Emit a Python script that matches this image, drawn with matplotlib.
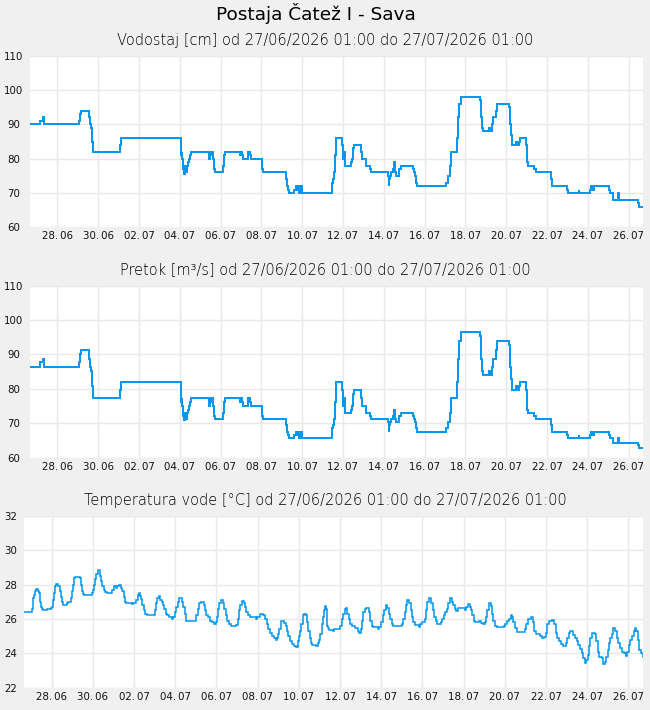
import numpy as np
import pandas as pd
import matplotlib
matplotlib.use("Agg")
import matplotlib.pyplot as plt

# ---------------- data ----------------
start = pd.Timestamp("2026-06-26 15:50")
end = pd.Timestamp("2026-07-26 17:00")

# water level [cm]: (day offset from start, value) step series
level_t = [0.00, 0.49, 0.64, 0.67, 2.42, 2.47, 2.52, 2.91, 2.96, 3.01, 3.06, 3.10, 4.43, 4.48,
           7.42, 7.45, 7.47, 7.52, 7.57, 7.60, 7.65, 7.70, 7.75, 7.80, 7.85, 7.90, 8.79, 8.84,
           8.89, 8.99, 9.04, 9.09, 9.48, 9.53, 9.58, 10.31, 10.36, 10.41, 10.46, 10.71, 10.76,
           10.81, 11.39, 11.44, 12.57, 12.62, 12.67, 12.72, 12.96, 13.06, 13.11, 13.16, 13.21,
           13.26, 13.33, 14.80, 14.85, 14.89, 14.94, 14.99, 15.29, 15.34, 15.36, 15.40, 15.45,
           15.72, 15.77, 15.83, 15.88, 16.22, 16.27, 16.46, 16.66, 16.71, 17.54, 17.59, 17.62,
           17.67, 17.72, 17.77, 17.85, 17.90, 17.95, 18.08, 18.18, 18.77, 18.82, 18.87, 18.92,
           18.96, 20.40, 20.50, 20.60, 20.65, 20.94, 20.99, 21.04, 21.12, 22.08, 22.13, 22.18,
           22.23, 22.51, 22.56, 22.67, 22.72, 22.82, 22.87, 23.46, 23.51, 23.56, 23.61, 23.65,
           23.80, 23.85, 23.95, 24.00, 24.29, 24.34, 24.39, 24.73, 24.78, 25.54, 25.59, 26.30,
           26.35, 26.89, 26.92, 27.43, 27.48, 27.58, 27.63, 28.36, 28.41, 28.56, 28.82, 28.85,
           29.79, 29.84, 30.06]
level_v = [90, 91, 92, 90, 91, 93, 94, 92, 90, 89, 85, 82, 84, 86,
           81, 82, 80, 77, 75.5, 78, 76, 78, 79, 80, 81, 82, 80, 81,
           82, 80, 77, 76, 78, 81, 82, 81, 82, 81, 80, 82, 81,
           80, 77, 76, 74, 72, 71, 70, 71, 72, 71, 72, 70,
           72, 70, 73, 74, 76, 81, 86, 84, 81, 80, 82, 78,
           79, 80, 83, 84, 82, 80, 78, 77, 76, 75, 72, 74,
           75, 76, 77, 79, 76, 75, 77, 78, 77, 76, 75, 73,
           72, 73, 75, 78, 82, 86, 92, 96, 98, 97, 92, 89,
           88, 89, 88, 90, 92, 94, 96, 95, 90, 87, 86, 84,
           85, 84, 85, 86, 84, 79, 78, 77, 76, 74, 72, 71,
           70, 71, 70, 71, 72, 71, 72, 71, 70, 68, 70, 68,
           67, 66, 66]

# discharge [m3/s], same time stamps as level
flow_v = [86.4, 87.7, 88.8, 86.4, 87.7, 90.1, 91.4, 88.8, 86.4, 85.2, 80.8, 77.4, 79.7, 81.9,
          76.3, 77.4, 75.1, 72.2, 71.0, 73.0, 71.3, 73.0, 74.0, 75.1, 76.3, 77.4, 75.1, 76.3,
          77.4, 75.1, 72.2, 71.3, 73.0, 76.3, 77.4, 76.3, 77.4, 76.3, 75.1, 77.4, 76.3,
          75.1, 72.2, 71.3, 69.4, 67.5, 66.7, 65.8, 66.7, 67.5, 66.7, 67.5, 65.8,
          67.5, 65.8, 68.5, 69.4, 71.3, 76.3, 81.9, 79.7, 76.3, 75.1, 77.4, 73.0,
          74.0, 75.1, 78.5, 79.7, 77.4, 75.1, 73.0, 72.2, 71.3, 70.5, 67.5, 69.4,
          70.5, 71.3, 72.2, 74.0, 71.3, 70.5, 72.2, 73.0, 72.2, 71.3, 70.5, 68.5,
          67.5, 68.5, 70.5, 73.0, 77.4, 81.9, 88.8, 94.0, 96.6, 95.3, 88.8, 85.2,
          84.0, 85.2, 84.0, 86.4, 88.8, 91.4, 94.0, 92.7, 86.4, 82.9, 81.9, 79.7,
          80.8, 79.7, 80.8, 81.9, 79.7, 74.0, 73.0, 72.2, 71.3, 69.4, 67.5, 66.7,
          65.8, 66.7, 65.8, 66.7, 67.5, 66.7, 67.5, 66.7, 65.8, 64.3, 65.8, 64.3,
          63.6, 62.9, 62.9]

# water temperature [deg C]
temp_t = [0.00, 0.37, 0.42, 0.47, 0.52, 0.57, 0.66, 0.71, 0.76, 0.81, 0.87, 0.94, 1.11, 1.29,
          1.34, 1.39, 1.44, 1.50, 1.55, 1.66, 1.73, 1.78, 1.83, 1.89, 2.07, 2.16, 2.26, 2.33,
          2.37, 2.44, 2.49, 2.71, 2.76, 2.81, 2.86, 2.91, 3.28, 3.33, 3.39, 3.44, 3.50, 3.57,
          3.70, 3.75, 3.80, 3.86, 3.94, 4.01, 4.28, 4.35, 4.46, 4.52, 4.59, 4.73, 4.78, 4.85,
          4.89, 4.96, 5.22, 5.28, 5.46, 5.51, 5.56, 5.62, 5.69, 5.75, 5.82, 5.88, 5.95, 6.37,
          6.41, 6.46, 6.53, 6.61, 6.69, 6.75, 6.82, 6.90, 6.96, 7.03, 7.17, 7.25, 7.33, 7.40,
          7.46, 7.53, 7.67, 7.74, 7.82, 7.88, 8.37, 8.43, 8.50, 8.58, 8.74, 8.79, 8.85, 8.95,
          9.05, 9.14, 9.24, 9.32, 9.37, 9.42, 9.48, 9.56, 9.66, 9.73, 9.79, 9.85, 9.95, 10.06,
          10.31, 10.37, 10.44, 10.50, 10.57, 10.66, 10.73, 10.79, 10.87, 10.95, 11.26, 11.31,
          11.47, 11.62, 11.71, 11.78, 11.86, 11.94, 12.02, 12.12, 12.21, 12.26, 12.33, 12.39,
          12.46, 12.50, 12.62, 12.70, 12.76, 12.83, 12.89, 13.02, 13.12, 13.21, 13.28, 13.34,
          13.41, 13.47, 13.54, 13.59, 13.67, 13.73, 13.80, 13.86, 13.93, 13.99, 14.18, 14.27,
          14.33, 14.39, 14.46, 14.51, 14.56, 14.60, 14.65, 14.70, 14.75, 14.83, 14.99, 15.07,
          15.36, 15.43, 15.49, 15.56, 15.61, 15.69, 15.78, 15.83, 15.90, 16.09, 16.19, 16.25,
          16.35, 16.41, 16.48, 16.54, 16.61, 16.74, 16.80, 16.87, 16.93, 17.19, 17.25, 17.35,
          17.42, 17.48, 17.56, 17.64, 17.71, 17.77, 17.84, 17.90, 18.34, 18.41, 18.48, 18.55,
          18.59, 18.71, 18.77, 18.84, 18.90, 18.97, 19.16, 19.24, 19.34, 19.45, 19.52, 19.58,
          19.65, 19.77, 19.84, 19.90, 19.98, 20.06, 20.23, 20.31, 20.37, 20.44, 20.52, 20.60,
          20.66, 20.76, 20.82, 20.90, 20.98, 21.06, 21.42, 21.47, 21.53, 21.63, 21.69, 21.76,
          21.84, 21.90, 22.11, 22.19, 22.26, 22.37, 22.44, 22.50, 22.57, 22.65, 22.71, 22.78,
          22.86, 22.94, 23.28, 23.36, 23.44, 23.54, 23.62, 23.69, 23.75, 23.83, 23.91, 24.31,
          24.37, 24.46, 24.52, 24.59, 24.69, 24.77, 24.85, 25.04, 25.14, 25.25, 25.33, 25.41,
          25.49, 25.65, 25.73, 25.81, 25.89, 25.97, 26.07, 26.17, 26.30, 26.38, 26.46, 26.52,
          26.65, 26.75, 26.83, 26.91, 26.99, 27.07, 27.16, 27.22, 27.28, 27.36, 27.43, 27.49,
          27.56, 27.72, 27.79, 27.85, 27.91, 28.04, 28.12, 28.20, 28.27, 28.33, 28.40, 28.46,
          28.53, 28.61, 28.69, 28.77, 28.85, 28.93, 29.01, 29.12, 29.20, 29.27, 29.35, 29.43,
          29.51, 29.59, 29.66, 29.72, 29.80, 29.87, 29.93, 30.06]
temp_v = [26.4, 26.6, 27.2, 27.4, 27.6, 27.75, 27.6, 27.5, 27.0, 26.7, 26.55, 26.5, 26.6, 26.65,
          26.7, 27.1, 27.5, 27.9, 28.05, 27.9, 27.6, 27.3, 27.0, 26.8, 26.9, 27.0, 27.2, 27.6,
          28.0, 28.4, 28.45, 28.4, 28.0, 27.6, 27.45, 27.4, 27.5, 27.7, 28.0, 28.3, 28.6, 28.85,
          28.5, 28.2, 27.9, 27.7, 27.55, 27.5, 27.7, 27.9, 27.8, 27.9, 27.95, 27.8, 27.6, 27.3,
          27.0, 26.95, 26.85, 26.95, 27.1, 27.4, 27.5, 27.35, 27.15, 26.8, 26.5, 26.3, 26.25, 26.5,
          26.9, 27.2, 27.35, 27.1, 27.0, 26.8, 26.6, 26.3, 26.2, 26.1, 26.0, 26.1, 26.4, 26.7,
          27.0, 27.2, 27.0, 26.7, 26.3, 25.85, 26.2, 26.6, 26.9, 27.0, 26.8, 26.5, 26.2, 26.1,
          25.9, 25.8, 25.7, 25.8, 26.1, 26.6, 26.9, 27.1, 26.9, 26.6, 26.2, 25.9, 25.7, 25.6,
          25.65, 26.0, 26.5, 26.8, 27.05, 26.9, 26.7, 26.4, 26.2, 26.1, 26.0, 26.1,
          26.3, 26.2, 26.0, 25.7, 25.4, 25.2, 25.0, 24.9, 24.8, 24.9, 25.1, 25.4,
          25.75, 25.9, 25.75, 25.6, 25.3, 25.0, 24.7, 24.55, 24.45, 24.35, 24.7, 25.0,
          25.3, 25.7, 26.2, 26.3, 26.2, 25.8, 25.3, 24.9, 24.6, 24.5, 24.45, 24.6,
          24.8, 25.1, 25.7, 26.1, 26.5, 26.75, 26.6, 25.6, 25.5, 25.35, 25.3, 25.4,
          25.6, 26.0, 26.3, 26.6, 26.65, 26.3, 26.0, 25.7, 25.6, 25.45, 25.3, 25.2,
          25.4, 25.9, 26.4, 26.6, 26.65, 26.4, 25.9, 25.6, 25.55, 25.4, 25.55, 25.8,
          26.2, 26.5, 26.8, 26.65, 26.3, 26.0, 25.7, 25.6, 25.7, 26.0, 26.4, 26.8,
          27.1, 26.9, 26.5, 26.1, 25.8, 25.65, 25.55, 25.7, 25.8, 26.0, 26.5, 27.0,
          27.2, 26.9, 26.5, 26.1, 25.85, 25.7, 25.8, 26.0, 26.2, 26.4, 26.6, 26.9,
          27.2, 27.0, 26.8, 26.6, 26.45, 26.65, 26.5, 26.7, 26.85, 26.7, 26.5, 26.2,
          25.9, 25.8, 25.85, 25.75, 25.7, 25.8, 26.1, 26.5, 26.9, 26.75, 26.3, 25.9,
          25.6, 25.55, 25.6, 25.7, 25.9, 26.0, 26.25, 26.1, 25.8, 25.5, 25.25, 25.4,
          25.7, 26.0, 26.0, 26.1, 25.8, 25.3, 25.1, 25.0, 24.9, 24.95, 25.2, 25.7,
          25.85, 25.95, 25.7, 25.2, 24.9, 24.7, 24.55, 24.4, 24.6, 24.9, 25.2, 25.3,
          25.05, 24.9, 24.7, 24.5, 24.25, 24.0, 23.7, 23.45, 23.6, 23.9, 24.4, 24.9,
          25.2, 25.1, 24.7, 24.1, 23.8, 23.7, 23.35, 23.5, 23.8, 24.2, 24.6, 24.9,
          25.1, 25.5, 25.3, 24.9, 24.6, 24.3, 24.05, 24.0, 23.85, 24.1, 24.5, 24.8,
          25.0, 25.3, 25.45, 25.3, 24.8, 24.2, 24.0, 23.8]

tick_days = pd.date_range("2026-06-28", "2026-07-26", freq="2D")
tick_labels = [d.strftime("%d.\u2009%m") for d in tick_days]

main_title = "Postaja Čatež I - Sava"
sub_titles = ["Vodostaj [cm] od 27/06/2026 01:00 do 27/07/2026 01:00",
              "Pretok [m³/s] od 27/06/2026 01:00 do 27/07/2026 01:00",
              "Temperatura vode [°C] od 27/06/2026 01:00 do 27/07/2026 01:00"]
y_ranges = [(60, 110, 10), (60, 110, 10), (22, 32, 2)]

# ---------------- plotting ----------------
W, H = 650, 710
fig = plt.figure(figsize=(W / 100, H / 100), dpi=100, facecolor="#f0f0f0")
plt.rcParams["font.family"] = ["DejaVu Sans"]

def to_dt(days):
    return start + pd.to_timedelta(np.asarray(days, dtype=float), unit="D")

boxes = [(30, 55.7, 643, 227.3), (30, 285.7, 643, 457.7), (24, 515.7, 643, 687.7)]
series = [(level_t, level_v), (level_t, flow_v), (temp_t, temp_v)]
sub_y = [40.5, 270, 500]
label_center = [14, 14, 11]
color = "#0096ee"

for i, ((x0, y0, x1, y1), (t, v)) in enumerate(zip(boxes, series)):
    ax = fig.add_axes([x0 / W, 1 - y1 / H, (x1 - x0) / W, (y1 - y0) / H])
    ax.set_facecolor("white")
    ax.plot(to_dt(t), v, drawstyle="steps-post", color=color, lw=1.4 if i < 2 else 1.1,
            solid_joinstyle="miter")
    ax.set_xlim(start, end)
    lo, hi, st = y_ranges[i]
    ax.set_ylim(lo, hi)
    ax.set_yticks(np.arange(lo, hi + 0.1, st))
    ax.set_xticks(tick_days)
    ax.set_xticklabels(tick_labels)
    ax.grid(True, color="#e8e8e8", lw=1.0)
    ax.set_axisbelow(True)
    for s in ax.spines.values():
        s.set_visible(False)
    pad_px = x0 - label_center[i]
    ax.tick_params(axis="y", length=0, pad=pad_px * 0.72, labelsize=7.4, labelcolor="#111111")
    ax.tick_params(axis="x", length=0, pad=3.0, labelsize=7.4, labelcolor="#111111")
    for lab in ax.get_yticklabels():
        lab.set_horizontalalignment("center")
    fig.text(0.5, 1 - sub_y[i] / H, sub_titles[i], ha="center", va="center",
             fontsize=10.5, fontweight="light", color="#000000")

fig.text(316 / W, 1 - 14 / H, main_title, ha="center", va="center", fontsize=13.3,
         color="#000000")

fig.savefig("out.png", dpi=100, facecolor=fig.get_facecolor())
